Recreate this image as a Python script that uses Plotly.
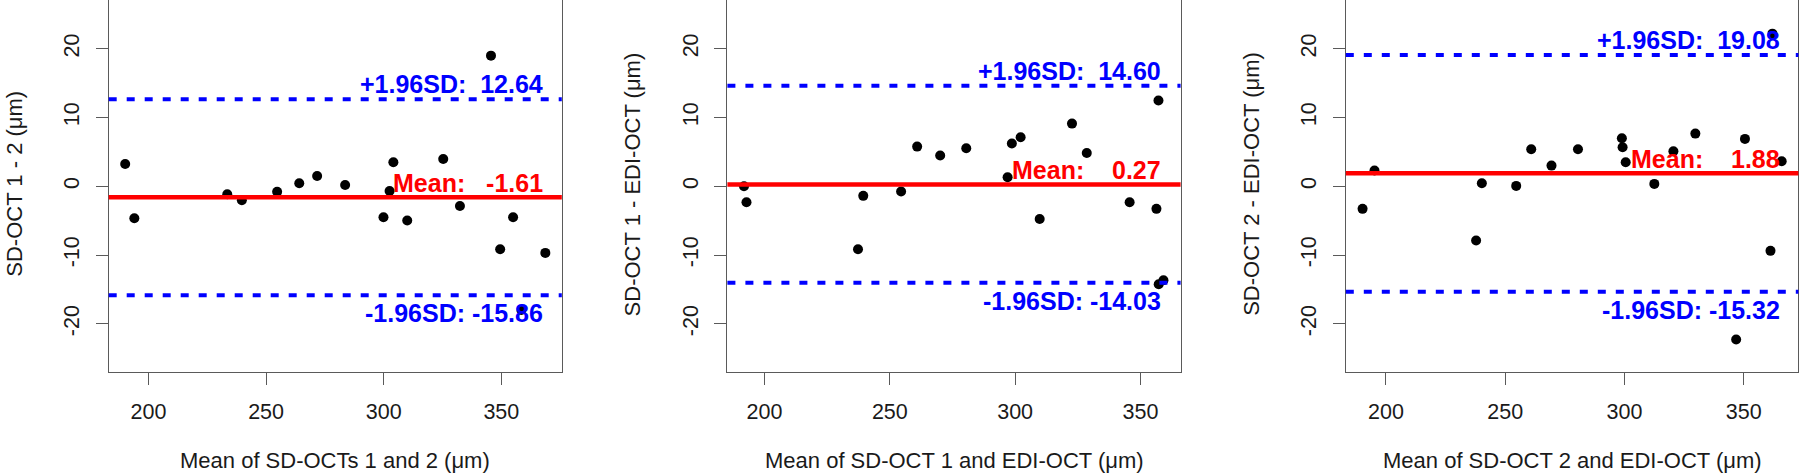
import plotly.graph_objects as go

W, H = 1800, 474

# ---------------- data ----------------
p1_x = [190.1, 194.0, 233.5, 239.7, 254.7, 264.1, 271.7, 283.6, 299.9, 302.5,
        304.1, 310.0, 325.3, 332.4, 345.6, 349.5, 355.0, 358.5, 368.7]
p1_y = [3.24, -4.65, -1.16, -2.03, -0.82, 0.44, 1.50, 0.19, -4.50, -0.68,
        3.49, -4.99, 3.97, -2.86, 18.98, -9.15, -4.50, -18.0, -9.69]

p2_x = [191.8, 192.8, 237.3, 239.4, 254.5, 260.9, 270.1, 280.5, 297.0, 298.7,
        302.2, 309.8, 322.7, 328.6, 345.7, 356.4, 357.2, 357.3, 359.2]
p2_y = [0.0, -2.32, -9.15, -1.40, -0.77, 5.76, 4.46, 5.52, 1.31, 6.20,
        7.12, -4.75, 9.10, 4.84, -2.32, -3.29, 12.45, -14.24, -13.66]

p3_x = [190.2, 195.2, 237.8, 240.2, 254.6, 260.9, 269.4, 280.5, 298.9, 299.2,
        300.5, 312.5, 320.5, 329.7, 346.8, 350.5, 361.2, 362.0, 365.9]
p3_y = [-3.29, 2.28, -7.89, 0.44, 0.05, 5.38, 3.00, 5.38, 6.97, 5.67,
        3.49, 0.34, 5.08, 7.65, -22.28, 6.88, -9.39, 22.18, 3.63]

means = [-1.61, 0.27, 1.88]
upper = [12.64, 14.60, 19.08]
lower = [-15.86, -14.03, -15.32]

x_titles = ["Mean of SD-OCTs 1 and 2 (\u03bcm)",
            "Mean of SD-OCT 1 and EDI-OCT (\u03bcm)",
            "Mean of SD-OCT 2 and EDI-OCT (\u03bcm)"]
y_titles = ["SD-OCT 1 - 2 (\u03bcm)",
            "SD-OCT 1 - EDI-OCT (\u03bcm)",
            "SD-OCT 2 - EDI-OCT (\u03bcm)"]

x_ticks = [200, 250, 300, 350]
y_ticks = [-20, -10, 0, 10, 20]

# ---------------- layout geometry ----------------
x_ranges = [[183.1, 375.7], [185.18, 366.04], [183.17, 372.9]]
y_range = [-27, 27]
dom_px = [(108.7, 561.8), (727.4, 1180.6), (1345.8, 1798.4)]
y_dom = [(H - 372) / H, 0.999]

NBSP = "\u00a0"

def fmt_val(v):
    return "%.2f" % v

fig = go.Figure()
xs = [p1_x, p2_x, p3_x]
ys = [p1_y, p2_y, p3_y]

gray = "#5a5a5a"
font_fam = "Liberation Sans, Arial, sans-serif"

for i in range(3):
    sfx = "" if i == 0 else str(i + 1)
    xa = "x" + sfx
    ya = "y" + sfx
    fig.add_trace(go.Scatter(x=xs[i], y=ys[i], mode="markers",
                             marker=dict(color="black", size=10),
                             xaxis=xa, yaxis=ya, showlegend=False,
                             hoverinfo="x+y"))
    d0, d1 = dom_px[i]
    fig.update_layout(**{
        "xaxis" + sfx: dict(domain=[d0 / W, d1 / W], range=x_ranges[i],
                            anchor=ya, showgrid=False, zeroline=False,
                            showline=True, mirror=True, linecolor=gray, linewidth=1.2,
                            ticks="outside", ticklen=12, tickcolor=gray, tickwidth=1.2,
                            tickvals=x_ticks, ticktext=[str(t) for t in x_ticks],
                            tickfont=dict(size=21.5, color="#1a1a1a", family=font_fam),
                            ticklabelstandoff=8, automargin=False),
        "yaxis" + sfx: dict(domain=y_dom, range=y_range, anchor=xa,
                            showgrid=False, zeroline=False,
                            showline=True, mirror=True, linecolor=gray, linewidth=1.2,
                            ticks="outside", ticklen=12, tickcolor=gray, tickwidth=1.2,
                            tickvals=y_ticks, ticktext=[str(t) for t in y_ticks],
                            tickangle=-90,
                            tickfont=dict(size=21.5, color="#1a1a1a", family=font_fam),
                            ticklabelstandoff=8, automargin=False),
    })
    xdom = xa + " domain"
    fig.add_shape(type="line", xref=xdom, yref=ya, x0=0, x1=1,
                  y0=means[i], y1=means[i], line=dict(color="#ff0000", width=4.5))
    for v in (upper[i], lower[i]):
        fig.add_shape(type="line", xref=xdom, yref=ya, x0=0, x1=1,
                      y0=v, y1=v, line=dict(color="#0000ff", width=4, dash="8px,10px"))
    xmax = max(xs[i])
    bold = dict(size=25, family=font_fam, weight="bold")
    up_txt = "+1.96SD:" + NBSP * 2 + fmt_val(upper[i])
    lo_txt = "-1.96SD:" + NBSP + fmt_val(lower[i])
    mean_txt = "Mean:" + NBSP * (3 if means[i] < 0 else 4) + fmt_val(means[i])
    fig.add_annotation(x=xmax, y=upper[i], xref=xa, yref=ya, text=up_txt,
                       showarrow=False, xanchor="right", yanchor="bottom",
                       yshift=-1, font=dict(color="#0000ff", **bold))
    fig.add_annotation(x=xmax, y=means[i], xref=xa, yref=ya, text=mean_txt,
                       showarrow=False, xanchor="right", yanchor="bottom",
                       yshift=-2, font=dict(color="#ff0000", **bold))
    fig.add_annotation(x=xmax, y=lower[i], xref=xa, yref=ya, text=lo_txt,
                       showarrow=False, xanchor="right", yanchor="top",
                       yshift=-2, font=dict(color="#0000ff", **bold))
    fig.add_annotation(x=(d0 + d1) / 2 / W, y=(H - 460) / H, xref="paper", yref="paper",
                       text=x_titles[i], showarrow=False, xanchor="center", yanchor="middle",
                       font=dict(size=22, color="#1a1a1a", family=font_fam))
    fig.add_annotation(x=(d0 - 95) / W, y=(H - 184) / H, xref="paper", yref="paper",
                       text=y_titles[i], showarrow=False, textangle=-90,
                       xanchor="center", yanchor="middle",
                       font=dict(size=22, color="#1a1a1a", family=font_fam))

fig.update_layout(width=W, height=H, margin=dict(l=0, r=0, t=0, b=0),
                  paper_bgcolor="white", plot_bgcolor="white",
                  font=dict(family=font_fam), showlegend=False)

fig.write_html("out.html", config={"displayModeBar": False},
               post_script="document.body.style.margin='0px';document.body.style.overflow='hidden';")
